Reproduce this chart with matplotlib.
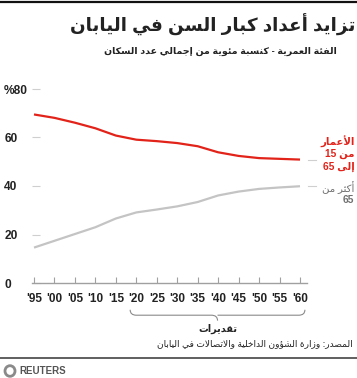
import matplotlib
matplotlib.use("Agg")
import matplotlib.pyplot as plt
from matplotlib.patches import Circle
from matplotlib.path import Path
from matplotlib.patches import PathPatch

# =============================================================================
# Data
# =============================================================================
YEARS = [1995, 2000, 2005, 2010, 2015, 2020, 2025, 2030, 2035, 2040, 2045, 2050, 2055, 2060]
AGE_15_64 = [69.5, 68.1, 66.1, 63.8, 60.8, 59.1, 58.5, 57.7, 56.4, 53.9, 52.4, 51.5, 51.2, 50.9]
AGE_65_PLUS = [14.6, 17.4, 20.2, 23.0, 26.6, 29.1, 30.3, 31.6, 33.4, 36.1, 37.7, 38.8, 39.4, 39.9]
YTICKS = [0, 20, 40, 60, 80]
XTICK_LABELS = ["'95", "'00", "'05", "'10", "'15", "'20", "'25", "'30", "'35",
                "'40", "'45", "'50", "'55", "'60"]
PROJ_START, PROJ_END = 2018.5, 2061.2

TITLE = "تزايد أعداد كبار السن في اليابان"
SUBTITLE = "الفئة العمرية - كنسبة مئوية من إجمالي عدد السكان"
PROJ_LABEL = "تقديرات"
SOURCE = "المصدر: وزارة الشؤون الداخلية والاتصالات في اليابان"
LABEL_WORKING = ["الأعمار", "من 15", "إلى 65"]
LABEL_OLD = ["أكثر من", "65"]

RED = "#e2231a"
GRAY_LINE = "#c4c4c4"
GRAY_TEXT = "#707070"
TICK_GRAY = "#a0a0a0"

# =============================================================================
# Minimal Arabic shaping (matplotlib has no bidi / joining support)
# =============================================================================
# isolated, final, initial, medial
FORMS = {
    "ء": (0xFE80,), "آ": (0xFE81, 0xFE82), "أ": (0xFE83, 0xFE84),
    "ؤ": (0xFE85, 0xFE86), "إ": (0xFE87, 0xFE88), "ئ": (0xFE89, 0xFE8A, 0xFE8B, 0xFE8C),
    "ا": (0xFE8D, 0xFE8E), "ب": (0xFE8F, 0xFE90, 0xFE91, 0xFE92), "ة": (0xFE93, 0xFE94),
    "ت": (0xFE95, 0xFE96, 0xFE97, 0xFE98), "ث": (0xFE99, 0xFE9A, 0xFE9B, 0xFE9C),
    "ج": (0xFE9D, 0xFE9E, 0xFE9F, 0xFEA0), "ح": (0xFEA1, 0xFEA2, 0xFEA3, 0xFEA4),
    "خ": (0xFEA5, 0xFEA6, 0xFEA7, 0xFEA8), "د": (0xFEA9, 0xFEAA), "ذ": (0xFEAB, 0xFEAC),
    "ر": (0xFEAD, 0xFEAE), "ز": (0xFEAF, 0xFEB0), "س": (0xFEB1, 0xFEB2, 0xFEB3, 0xFEB4),
    "ش": (0xFEB5, 0xFEB6, 0xFEB7, 0xFEB8), "ص": (0xFEB9, 0xFEBA, 0xFEBB, 0xFEBC),
    "ض": (0xFEBD, 0xFEBE, 0xFEBF, 0xFEC0), "ط": (0xFEC1, 0xFEC2, 0xFEC3, 0xFEC4),
    "ظ": (0xFEC5, 0xFEC6, 0xFEC7, 0xFEC8), "ع": (0xFEC9, 0xFECA, 0xFECB, 0xFECC),
    "غ": (0xFECD, 0xFECE, 0xFECF, 0xFED0), "ف": (0xFED1, 0xFED2, 0xFED3, 0xFED4),
    "ق": (0xFED5, 0xFED6, 0xFED7, 0xFED8), "ك": (0xFED9, 0xFEDA, 0xFEDB, 0xFEDC),
    "ل": (0xFEDD, 0xFEDE, 0xFEDF, 0xFEE0), "م": (0xFEE1, 0xFEE2, 0xFEE3, 0xFEE4),
    "ن": (0xFEE5, 0xFEE6, 0xFEE7, 0xFEE8), "ه": (0xFEE9, 0xFEEA, 0xFEEB, 0xFEEC),
    "و": (0xFEED, 0xFEEE), "ى": (0xFEEF, 0xFEF0), "ي": (0xFEF1, 0xFEF2, 0xFEF3, 0xFEF4),
}
LAM_ALEF = {"آ": (0xFEF5, 0xFEF6), "أ": (0xFEF7, 0xFEF8), "إ": (0xFEF9, 0xFEFA), "ا": (0xFEFB, 0xFEFC)}


def shape(text):
    # merge lam + alef into ligature tokens
    tokens = []
    i = 0
    while i < len(text):
        c = text[i]
        if c == "ل" and i + 1 < len(text) and text[i + 1] in LAM_ALEF:
            tokens.append(("LA", text[i + 1]))
            i += 2
        else:
            tokens.append(("C", c))
            i += 1

    def jtype(tok):
        kind, c = tok
        if kind == "LA":
            return "R"
        if c not in FORMS:
            return "U"
        return "D" if len(FORMS[c]) == 4 else "R"

    out = []
    for k, tok in enumerate(tokens):
        t = jtype(tok)
        prev_t = jtype(tokens[k - 1]) if k > 0 else "U"
        next_t = jtype(tokens[k + 1]) if k + 1 < len(tokens) else "U"
        jp = prev_t == "D" and t in ("D", "R")
        jn = t == "D" and next_t in ("D", "R")
        kind, c = tok
        if kind == "LA":
            out.append(chr(LAM_ALEF[c][1 if jp else 0]))
        elif t == "U":
            out.append(c)
        elif t == "R":
            f = FORMS[c]
            out.append(chr(f[1] if (jp and len(f) > 1) else f[0]))
        else:
            f = FORMS[c]
            idx = 3 if (jp and jn) else 1 if jp else 2 if jn else 0
            out.append(chr(f[idx]))
    # visual order: reverse, keeping digit runs left-to-right
    runs, cur, cur_digit = [], "", None
    for ch in out:
        d = ch.isdigit()
        if cur and d != cur_digit:
            runs.append(cur)
            cur = ""
        cur += ch
        cur_digit = d
    if cur:
        runs.append(cur)
    return "".join(r if r[0].isdigit() else r[::-1] for r in reversed(runs))


FONT = ["Liberation Sans", "DejaVu Sans"]
plt.rcParams["font.family"] = FONT

# =============================================================================
# Figure
# =============================================================================
W, H = 357, 378
fig = plt.figure(figsize=(W / 100, H / 100), dpi=100)

# axes in pixel geometry
ax_left, ax_right = 32, 307
y0_px, y80_px = 283, 89
ax = fig.add_axes([ax_left / W, 1 - y0_px / H, (ax_right - ax_left) / W, (y0_px - y80_px) / H])
px_per_year = (300 - 34) / 65
ax.set_xlim(1995 - (34 - ax_left) / px_per_year, 1995 + (ax_right - 34) / px_per_year)
ax.set_ylim(0, 80)
ax.patch.set_alpha(0)

for s in ("top", "right", "left"):
    ax.spines[s].set_visible(False)
ax.spines["bottom"].set_color(TICK_GRAY)
ax.spines["bottom"].set_linewidth(1.0)

ax.set_yticks(YTICKS)
ax.set_yticklabels(["%80" if v == 80 else str(v) for v in YTICKS],
                   fontweight="bold", fontsize=8.6, ha="left")
ax.tick_params(axis="y", direction="in", length=6, width=0.8, color="#cfcfcf",
               pad=20, labelcolor="#222222")
ax.set_xticks(YEARS)
ax.set_xticklabels(XTICK_LABELS, fontweight="bold", fontsize=8.5)
ax.tick_params(axis="x", direction="in", length=4, width=0.8, color=TICK_GRAY,
               pad=7, labelcolor="#222222")

ax.plot(YEARS, AGE_65_PLUS, color=GRAY_LINE, lw=1.6, clip_on=False, solid_capstyle="butt")
ax.plot(YEARS, AGE_15_64, color=RED, lw=1.6, clip_on=False, solid_capstyle="butt")

# short connectors from line ends to labels
for v in (AGE_15_64[-1], AGE_65_PLUS[-1]):
    ax.plot([2062.0, 2063.8], [v, v], color="#cfcfcf", lw=0.8, clip_on=False)

LX = 2073.3
for txt, yv in zip(LABEL_WORKING, [58.1, 53.2, 47.8]):
    ax.text(LX, yv, shape(txt), color=RED, fontweight="bold", fontsize=7.3,
            ha="right", va="center", family=FONT)
for txt, yv in zip(LABEL_OLD, [39.2, 34.2]):
    ax.text(LX, yv, shape(txt), color=GRAY_TEXT, fontsize=7.3,
            fontweight="bold" if txt.isdigit() else "normal",
            ha="right", va="center", family=FONT)

# projection brace under the axis
trans = ax.get_xaxis_transform()
mid = (PROJ_START + PROJ_END) / 2
yb = -0.138
d = 0.028
verts = [(PROJ_START, yb), (PROJ_START, yb - d), (PROJ_START + 1.5, yb - d),
         (mid - 1.5, yb - d), (mid, yb - d), (mid, yb - 2 * d),
         (mid, yb - d), (mid + 1.5, yb - d),
         (PROJ_END - 1.5, yb - d), (PROJ_END, yb - d), (PROJ_END, yb)]
codes = [Path.MOVETO, Path.CURVE3, Path.CURVE3, Path.LINETO, Path.CURVE3, Path.CURVE3,
         Path.MOVETO, Path.CURVE3, Path.LINETO, Path.CURVE3, Path.CURVE3]
ax.add_patch(PathPatch(Path(verts, codes), transform=trans, fill=False,
                       edgecolor="#8a8a8a", lw=0.8, clip_on=False))
ax.text(mid, -0.235, shape(PROJ_LABEL), transform=trans, ha="center", va="center",
        fontsize=7, fontweight="bold", color="#222222", family=FONT)

# titles, source, rules
fig.text(355 / W, 1 - 25 / H, shape(TITLE), ha="right", va="center", fontsize=13.2,
         fontweight="bold", color="#222222", family=FONT)
fig.text(337 / W, 1 - 51 / H, shape(SUBTITLE), ha="right", va="center", fontsize=6.8,
         fontweight="bold", color="#222222", family=FONT)
fig.text(353 / W, 1 - 344 / H, shape(SOURCE), ha="right", va="center", fontsize=6.5,
         color="#222222", family=FONT)

fig.add_artist(plt.Line2D([0, 1], [1 - 1.5 / H, 1 - 1.5 / H], color="#111111", lw=1.6))
fig.add_artist(plt.Line2D([0, 1], [1 - 358 / H, 1 - 358 / H], color="#444444", lw=1.2))

# Reuters mark
fig.add_artist(Circle((10 / W, 1 - 371 / H), 5 / W, transform=fig.transFigure,
                      facecolor="none", edgecolor="#8a8a8a", lw=2.0))
fig.text(19 / W, 1 - 371 / H, "REUTERS", ha="left", va="center", fontsize=7,
         fontweight="bold", color="#555555", family=FONT)

fig.savefig("out.png", dpi=100)
plt.close(fig)
